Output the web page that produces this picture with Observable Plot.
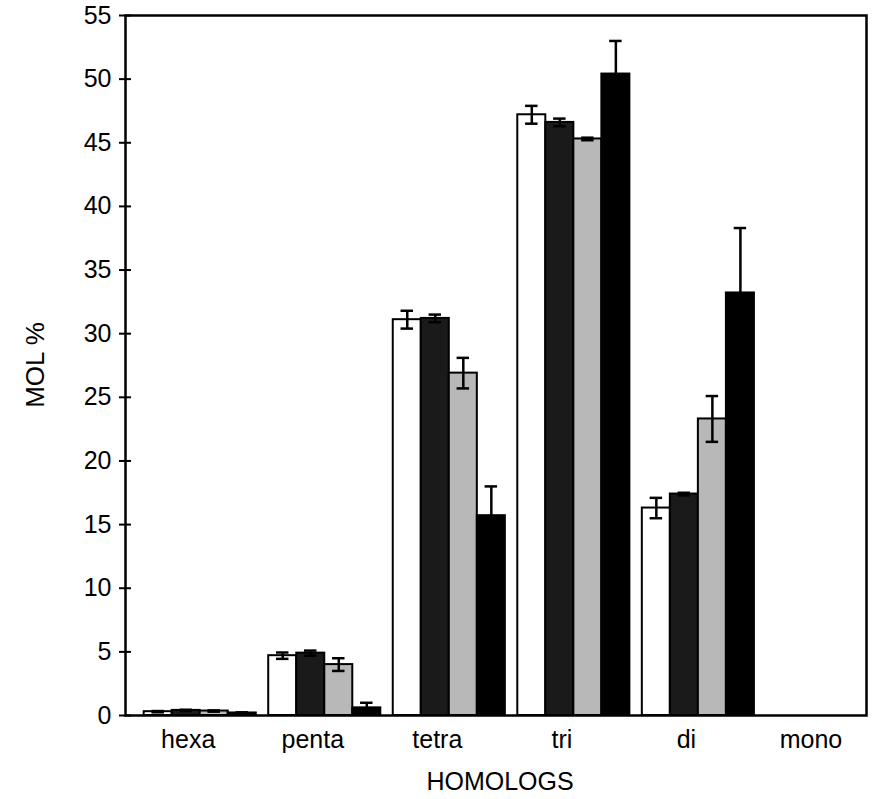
<!DOCTYPE html>
<html>
<head>
<meta charset="utf-8">
<script src="https://cdn.jsdelivr.net/npm/d3@7"></script>
<script src="https://cdn.jsdelivr.net/npm/@observablehq/plot@0.6"></script>
<style>
  html, body { margin: 0; padding: 0; background: #fff; }
</style>
</head>
<body>
<div id="chart"></div>
<script>
// Categories (homolog groups)
const groups = ["hexa", "penta", "tetra", "tri", "di", "mono"];
// Four series (bar patterns: white, dark stipple, light stipple, black)
const seriesNames = ["series 1", "series 2", "series 3", "series 4"];
const seriesFills = ["#ffffff", "#1a1a1a", "#b8b8b8", "#000000"];

// MOL % values
const series1 = [0.3, 4.7, 31.1, 47.2, 16.3, 0];
const series2 = [0.4, 4.9, 31.2, 46.6, 17.4, 0];
const series3 = [0.35, 4.0, 26.9, 45.3, 23.3, 0];
const series4 = [0.2, 0.6, 15.7, 50.4, 33.2, 0];
// error bar half-lengths
const error1 = [0.05, 0.25, 0.7, 0.7, 0.8, 0];
const error2 = [0.05, 0.2, 0.3, 0.3, 0.1, 0];
const error3 = [0.05, 0.5, 1.2, 0.1, 1.8, 0];
const error4 = [0.05, 0.4, 2.3, 2.6, 5.1, 0];

const yTicks = [0, 5, 10, 15, 20, 25, 30, 35, 40, 45, 50, 55];
const xLabel = "HOMOLOGS";
const yLabel = "MOL %";

const allValues = [series1, series2, series3, series4];
const allErrors = [error1, error2, error3, error4];

// layout of bars inside a group (in group-index units on the x scale)
const groupSpan = 0.9;
const barW = groupSpan / seriesNames.length;
const capHalf = 0.05;

const rows = [];
groups.forEach((g, gi) => {
  seriesNames.forEach((s, si) => {
    const x1 = gi - groupSpan / 2 + si * barW;
    rows.push({
      group: g, series: s,
      value: allValues[si][gi], err: allErrors[si][gi],
      x1, x2: x1 + barW, xc: x1 + barW / 2
    });
  });
});
const withErr = rows.filter(d => d.err > 0 && d.value > 0);

const chart = Plot.plot({
  width: 880,
  height: 799,
  marginLeft: 125,
  marginRight: 14,
  marginTop: 15,
  marginBottom: 84,
  style: { fontFamily: "'Liberation Sans', Arial, Helvetica, sans-serif", background: "#fff", color: "#000" },
  x: { type: "linear", domain: [-0.6, 5.35], axis: null },
  y: { domain: [0, 55], axis: null },
  color: { domain: seriesNames, range: seriesFills },
  marks: [
    Plot.rect(rows.filter(d => d.value > 0), {
      x1: "x1", x2: "x2", y1: 0, y2: "value",
      fill: "series", stroke: "#000", strokeWidth: 2
    }),
    Plot.ruleX(withErr, {
      x: "xc", y1: d => d.value - d.err, y2: d => d.value + d.err,
      stroke: "#000", strokeWidth: 2.5
    }),
    Plot.ruleY(withErr, {
      y: d => d.value + d.err, x1: d => d.xc - capHalf, x2: d => d.xc + capHalf,
      stroke: "#000", strokeWidth: 2.5
    }),
    Plot.ruleY(withErr, {
      y: d => d.value - d.err, x1: d => d.xc - capHalf, x2: d => d.xc + capHalf,
      stroke: "#000", strokeWidth: 2.5
    }),
    Plot.frame({ stroke: "#000", strokeWidth: 2.5 }),
    Plot.axisY(yTicks, {
      anchor: "left", tickSize: 6, tickPadding: 8, strokeWidth: 2,
      fontSize: 25, label: null
    }),
    Plot.axisY(yTicks, {
      anchor: "left", tickSize: 6, dx: 6, strokeWidth: 2,
      tickFormat: () => "", label: null
    }),
    Plot.axisX(groups.map((g, i) => i), {
      anchor: "bottom", tickSize: 0, tickPadding: 15, dx: -12,
      tickFormat: i => groups[i], fontSize: 25,
      fontFamily: "'Liberation Sans Narrow', 'Arial Narrow', 'Liberation Sans', Arial, sans-serif",
      label: null
    })
  ]
});

const svg = d3.select(chart);
svg.append("text")
  .attr("x", 500).attr("y", 790)
  .attr("text-anchor", "middle")
  .attr("font-size", 25)
  .attr("font-family", "'Liberation Sans', Arial, sans-serif")
  .attr("fill", "#000")
  .text(xLabel);
svg.append("text")
  .attr("transform", "translate(44,365) rotate(-90)")
  .attr("text-anchor", "middle")
  .attr("font-size", 26)
  .attr("font-family", "'Liberation Sans', Arial, sans-serif")
  .attr("fill", "#000")
  .text(yLabel);

document.getElementById("chart").append(chart);
</script>
</body>
</html>
